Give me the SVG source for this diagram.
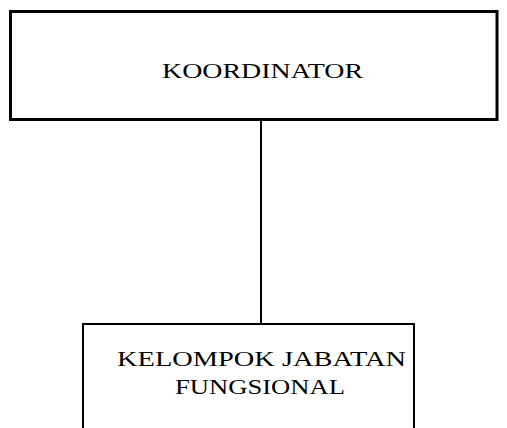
<svg xmlns="http://www.w3.org/2000/svg" width="507" height="428" viewBox="0 0 507 428">
<style>
.box{fill:#fff;stroke:#000}
.t{font-family:"Liberation Serif","DejaVu Serif",serif;font-size:22px;fill:#000;text-anchor:middle}
</style>
<rect width="507" height="428" fill="#fff"/>
<g id="connectors">
<line x1="261" y1="120" x2="261" y2="324" stroke="#000" stroke-width="2"/>
</g>
<g id="koordinator">
<rect class="box" x="10.5" y="11.5" width="486.5" height="108" stroke-width="3"/>
<text class="t" x="262.5" y="78" textLength="201" lengthAdjust="spacingAndGlyphs">KOORDINATOR</text>
</g>
<g id="kelompok">
<rect class="box" x="83" y="324" width="331" height="120" stroke-width="2"/>
<text class="t" x="261.5" y="366" textLength="289" lengthAdjust="spacingAndGlyphs">KELOMPOK JABATAN</text>
<text class="t" x="260" y="394" textLength="170" lengthAdjust="spacingAndGlyphs">FUNGSIONAL</text>
</g>
</svg>
